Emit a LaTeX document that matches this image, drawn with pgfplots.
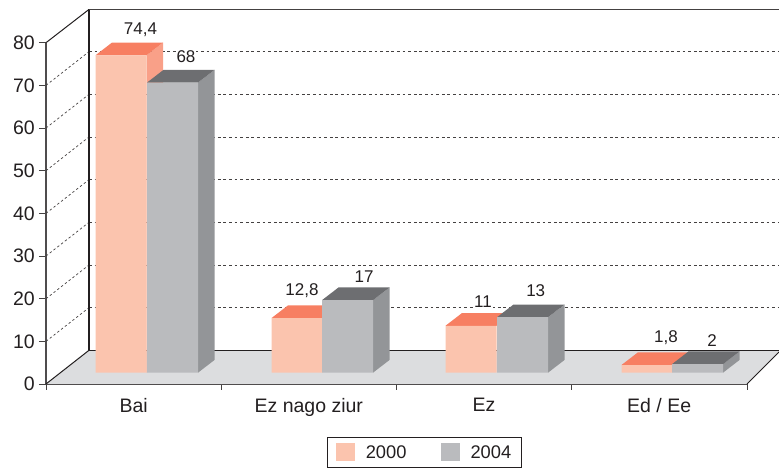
\documentclass[border=0pt]{standalone}
\usepackage{pgfplots}
\pgfplotsset{compat=1.18}
\usepackage{pgfplotstable}
\usepackage{fontspec}
\setmainfont{Liberation Sans}
\definecolor{txt}{HTML}{231F20}
\definecolor{oF}{HTML}{FBC4AE}
\definecolor{oT}{HTML}{F77F62}
\definecolor{oS}{HTML}{F9A088}
\definecolor{gF}{HTML}{BABBBE}
\definecolor{gT}{HTML}{6D6E71}
\definecolor{gS}{HTML}{939598}
\definecolor{fl}{HTML}{DCDDDF}
\pgfplotstableread{
x v
121.0 74.4
297.0 12.8
471.0 11
647.0 1.8
}\seriesA
\pgfplotstableread{
x v
172.5 68
347.5 17
522.5 13
697.5 2
}\seriesB
\newcommand\fs{\fontsize{19.5}{23}\selectfont}
\newcommand\fl{\fontsize{18.3}{21}\selectfont}
\newcommand\fd{\fontsize{17}{20}\selectfont}
\begin{document}
\begin{tikzpicture}
\useasboundingbox (-46pt,-84pt) rectangle (733pt,384pt);
\begin{axis}[
  at={(0pt,0pt)}, anchor=south west,
  scale only axis, width=701pt, height=341.3pt,
  xmin=46, xmax=747, ymin=-2.65, ymax=77.35,
  clip=false,
  axis x line*=bottom, axis y line*=left,
  axis line style={draw=txt!80, line width=1.2pt, -},
  /pgf/number format/assume math mode=true,
  ytick={-2.65,7.35,17.35,27.35,37.35,47.35,57.35,67.35,77.35},
  yticklabels={0,10,20,30,40,50,60,70,80},
  xtick={133.6,308.8,484,659.2},
  xticklabels={Bai,Ez nago ziur,Ez,Ed / Ee},
  minor xtick={46,221.25,396.5,571.75,747},
  major x tick style={draw=none},
  minor x tick style={draw=txt!85, line width=0.8pt},
  ytick style={draw=txt!85, line width=0.8pt},
  tick align=outside, major tick length=7pt, minor tick length=6pt,
  tick label style={font=\fs, text=txt},
  yticklabel style={inner sep=0pt, xshift=-4pt},
  xticklabel style={inner sep=0pt, yshift=-7pt},
  legend columns=2,
  legend cell align=left,
  legend style={at={(axis cs:424.5,-18.7)}, anchor=center, draw=txt, line width=0.9pt,
    font=\fl, text=txt, inner xsep=8pt, inner ysep=5.5pt,
    /tikz/every odd column/.append style={column sep=9pt},
    /tikz/every even column/.append style={column sep=32pt}},
  legend image code/.code={\fill[#1] (0pt,-9pt) rectangle (19pt,9pt);},
]
% floor
\addplot[fill=fl, draw=none, forget plot] coordinates {(46,-2.65)(89,5.25)(779,5.25)(779,4.85)(747,-2.65)};
% grid back wall
\addplot[forget plot, draw=txt!85, line width=0.7pt, dash pattern=on 2.8pt off 2.8pt, unbounded coords=jump] coordinates {
(89,15.25)(779,15.25)(nan,nan)
(89,25.25)(779,25.25)(nan,nan)
(89,35.25)(779,35.25)(nan,nan)
(89,45.25)(779,45.25)(nan,nan)
(89,55.25)(779,55.25)(nan,nan)
(89,65.25)(779,65.25)(nan,nan)
(89,75.25)(779,75.25)};
% grid side wall
\addplot[forget plot, draw=txt!85, line width=0.7pt, dash pattern=on 2.4pt off 2.4pt, unbounded coords=jump] coordinates {
(46,7.35)(89,15.25)(nan,nan)
(46,17.35)(89,25.25)(nan,nan)
(46,27.35)(89,35.25)(nan,nan)
(46,37.35)(89,45.25)(nan,nan)
(46,47.35)(89,55.25)(nan,nan)
(46,57.35)(89,65.25)(nan,nan)
(46,67.35)(89,75.25)};
% frame
\addplot[forget plot, draw=txt, line width=1.8pt] coordinates {(89,5.25)(89,85.15)};
\addplot[forget plot, draw=txt!85, line width=1.5pt] coordinates {(89,85.15)(779,85.15)};
\addplot[forget plot, draw=txt, line width=1pt] coordinates {(46,77.35)(89,85.15)};
\addplot[forget plot, draw=txt, line width=1pt] coordinates {(46,-2.65)(89,5.25)};
\addplot[forget plot, draw=txt, line width=1.1pt] coordinates {(89,5.25)(779,5.25)};
\addplot[forget plot, draw=txt, line width=1pt] coordinates {(747,-2.65)(779,4.85)};
% 2000 sides and tops
\addplot[forget plot, fill=oS, draw=none] coordinates {(146.5,0)(146.5,74.4)(163,77.38)(163,2.98)};
\addplot[forget plot, fill=oT, draw=none] coordinates {(95.5,74.4)(146.5,74.4)(163,77.38)(112,77.38)};
\addplot[forget plot, fill=oT, draw=none] coordinates {(271.5,12.8)(322.5,12.8)(339,15.78)(288,15.78)};
\addplot[forget plot, fill=oT, draw=none] coordinates {(445.5,11)(496.5,11)(513,13.98)(462,13.98)};
\addplot[forget plot, fill=oT, draw=none] coordinates {(621.5,1.8)(672.5,1.8)(689,4.78)(638,4.78)};
% 2000 fronts
\addplot[ybar, bar width=51pt, bar shift=0pt, fill=oF, draw=none] table[x=x,y=v] {\seriesA};
\addlegendentry{2000}
% 2004 sides and tops
\addplot[forget plot, fill=gS, draw=none] coordinates {(198,0)(198,68)(214.5,70.98)(214.5,2.98)};
\addplot[forget plot, fill=gT, draw=none] coordinates {(147,68)(198,68)(214.5,70.98)(163.5,70.98)};
\addplot[forget plot, fill=gS, draw=none] coordinates {(373,0)(373,17)(389.5,19.98)(389.5,2.98)};
\addplot[forget plot, fill=gT, draw=none] coordinates {(322,17)(373,17)(389.5,19.98)(338.5,19.98)};
\addplot[forget plot, fill=gS, draw=none] coordinates {(548,0)(548,13)(564.5,15.98)(564.5,2.98)};
\addplot[forget plot, fill=gT, draw=none] coordinates {(497,13)(548,13)(564.5,15.98)(513.5,15.98)};
\addplot[forget plot, fill=gS, draw=none] coordinates {(723,0)(723,2)(739.5,4.98)(739.5,2.98)};
\addplot[forget plot, fill=gT, draw=none] coordinates {(672,2)(723,2)(739.5,4.98)(688.5,4.98)};
% 2004 fronts
\addplot[ybar, bar width=51pt, bar shift=0pt, fill=gF, draw=none] table[x=x,y=v] {\seriesB};
\addlegendentry{2004}
% value labels
\begin{scope}[every node/.style={font=\fd, text=txt, fill=white, inner sep=1pt}]
\node at (axis cs:140.5,74.4) [yshift=26pt] {74,4};
\node at (axis cs:186,68) [yshift=25.7pt] {68};
\node at (axis cs:302,12.8) [yshift=27pt] {12,8};
\node at (axis cs:364,17) [yshift=24pt] {17};
\node at (axis cs:483,11) [yshift=24pt] {11};
\node at (axis cs:535.7,13) [yshift=27pt] {13};
\node at (axis cs:666,1.8) [yshift=27pt, fill=none] {1,8};
\node at (axis cs:712,2) [yshift=24pt, fill=none] {2};
\end{scope}
\end{axis}
\end{tikzpicture}
\end{document}
